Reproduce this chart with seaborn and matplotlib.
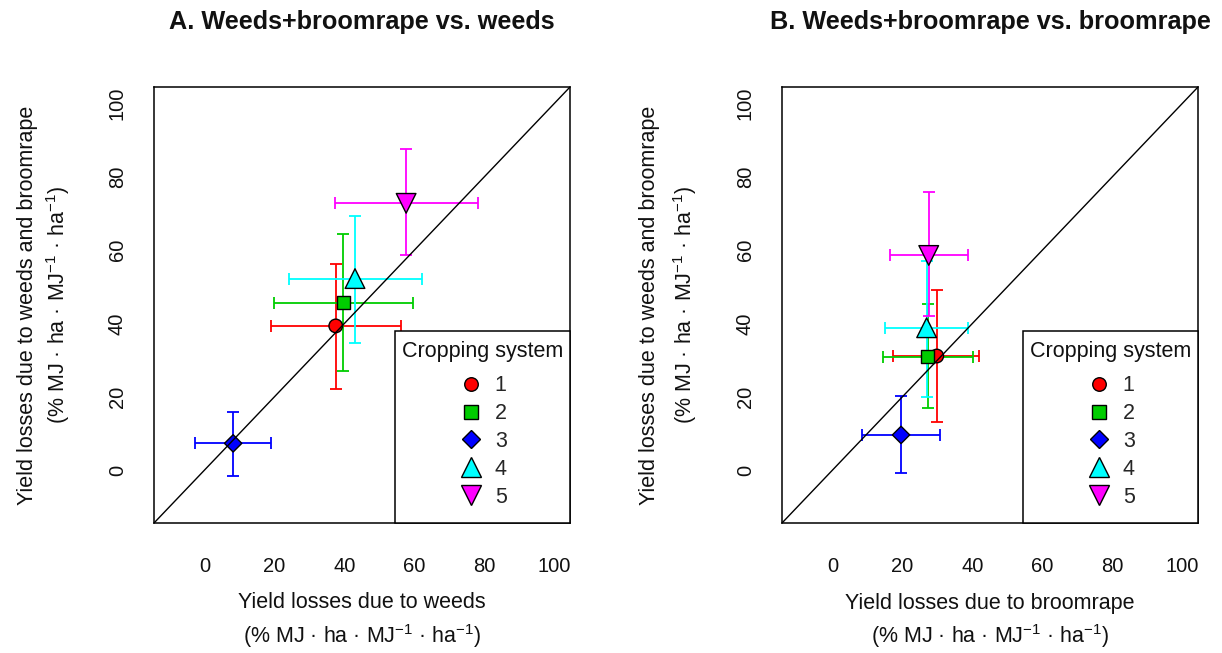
import pandas as pd
import numpy as np
import matplotlib
matplotlib.use("Agg")
import matplotlib.pyplot as plt
from matplotlib.patches import Rectangle
import seaborn as sns

# ==========================================================
# DATA
# ==========================================================

systems = ["1", "2", "3", "4", "5"]

# Panel A : weeds+broomrape (y) vs. weeds (x)
a_x = [37.5, 39.7, 8.2, 43.0, 57.6]
a_x_low = [19.0, 19.9, -2.8, 24.2, 37.3]
a_x_high = [56.0, 59.5, 19.1, 62.2, 78.1]
a_y = [39.3, 45.6, 7.3, 52.2, 72.7]
a_y_low = [22.2, 26.9, -1.5, 34.6, 58.5]
a_y_high = [56.1, 64.4, 15.9, 69.2, 87.6]

# Panel B : weeds+broomrape (y) vs. broomrape (x)
b_x = [29.8, 27.2, 19.6, 26.9, 27.5]
b_x_low = [17.2, 14.4, 8.4, 15.1, 16.4]
b_x_high = [41.9, 40.2, 30.7, 38.7, 38.7]
b_y = [31.1, 30.9, 9.6, 38.8, 58.5]
b_y_low = [13.1, 16.8, -0.9, 19.9, 42.0]
b_y_high = [49.1, 45.3, 20.2, 57.1, 75.7]

ticks = [0, 20, 40, 60, 80, 100]

titles = ["A. Weeds+broomrape vs. weeds", "B. Weeds+broomrape vs. broomrape"]
xlabels = ["Yield losses due to weeds", "Yield losses due to broomrape"]
ylabel = "Yield losses due to weeds and broomrape"
unit = "(% MJ · ha · MJ$^{-1}$ · ha$^{-1}$)"

colors = {"1": "#FF0000", "2": "#00CD00", "3": "#0000FF", "4": "#00FFFF", "5": "#FF00FF"}
markers = {"1": "o", "2": "s", "3": "D", "4": "^", "5": "v"}
sizes = {"1": 95, "2": 88, "3": 78, "4": 200, "5": 200}

# ==========================================================
# STYLE
# ==========================================================

sns.set_style("white")
plt.rcParams["font.family"] = ["Liberation Sans", "DejaVu Sans"]
plt.rcParams["mathtext.fontset"] = "custom"
plt.rcParams["mathtext.rm"] = "Liberation Sans"
plt.rcParams["mathtext.it"] = "Liberation Sans:italic"
plt.rcParams["mathtext.bf"] = "Liberation Sans:bold"

fig = plt.figure(figsize=(12.22, 6.53), dpi=100)

W, H = 1222, 653
ax_a = fig.add_axes([154 / W, 1 - 523 / H, 416 / W, 436 / H])
ax_b = fig.add_axes([782 / W, 1 - 523 / H, 416 / W, 436 / H])

panels = [
    (ax_a, a_x, a_x_low, a_x_high, a_y, a_y_low, a_y_high),
    (ax_b, b_x, b_x_low, b_x_high, b_y, b_y_low, b_y_high),
]

# legend box in axes fraction
box_x0 = 241 / 416
box_h = 192 / 436

for i, (ax, x, xl, xh, y, yl, yh) in enumerate(panels):
    df = pd.DataFrame({"x": x, "y": y, "system": systems})

    # error bars
    for j, s in enumerate(systems):
        ax.errorbar(
            x[j], y[j],
            xerr=[[x[j] - xl[j]], [xh[j] - x[j]]],
            yerr=[[y[j] - yl[j]], [yh[j] - y[j]]],
            fmt="none", ecolor=colors[s], elinewidth=1.3,
            capsize=4.6, capthick=1.3, zorder=2
        )

    sns.scatterplot(
        data=df, x="x", y="y",
        hue="system", style="system", size="system",
        palette=colors, markers=markers, sizes=sizes,
        edgecolor="black", linewidth=1.0,
        ax=ax, zorder=3, legend="full"
    )

    ax.axline((0, 0), slope=1, color="black", lw=1.0, zorder=4)

    ax.set_xlim(-14.4, 104.4)
    ax.set_ylim(-14.4, 104.4)
    ax.set_xticks(ticks)
    ax.set_yticks(ticks)
    ax.set_xlabel("")
    ax.set_ylabel("")
    ax.tick_params(axis="both", direction="out", length=8.6, width=1.0,
                   color="black", labelsize=14.5, labelcolor="#111111")
    ax.tick_params(axis="x", pad=16)
    ax.tick_params(axis="y", pad=11)
    for lab in ax.get_yticklabels():
        lab.set_rotation(90)
        lab.set_va("center")
    for sp in ax.spines.values():
        sp.set_visible(True)
        sp.set_color("black")
        sp.set_linewidth(1.1)

    # legend frame + title drawn by hand, entries from seaborn
    ax.add_patch(Rectangle((box_x0, 0), 1 - box_x0, box_h, transform=ax.transAxes,
                           facecolor="white", edgecolor="black", lw=1.1,
                           zorder=5, clip_on=False))
    box_cx = (box_x0 + 1) / 2
    ax.text(box_cx, (523 - 352) / 436, "Cropping system", transform=ax.transAxes,
            ha="center", va="center", fontsize=15.5, color="#111111", zorder=6)

    sns.move_legend(
        ax, "center", bbox_to_anchor=(box_cx, (523 - 441.5) / 436),
        title=None, frameon=False, fontsize=15.5,
        borderpad=0, labelspacing=0.32, handlelength=1.2, handletextpad=0.5
    )
    ax.get_legend().set_zorder(6)

    # titles and labels as figure text
    bb = ax.get_position()
    cx = (bb.x0 + bb.x1) / 2
    fig.text(cx, 1 - 22 / H, titles[i], ha="center", va="center",
             fontsize=18.2, fontweight="bold", color="#111111")
    fig.text(cx, 1 - 603 / H, xlabels[i], ha="center", va="center",
             fontsize=15.5, color="#111111")
    fig.text(cx, 1 - 636 / H, unit, ha="center", va="center",
             fontsize=15.5, color="#111111")

    cy = (bb.y0 + bb.y1) / 2
    lx1 = [27.5, 649.5][i]
    lx2 = [58.3, 685.0][i]
    fig.text(lx1 / W, cy, ylabel, ha="center", va="center", rotation=90,
             fontsize=15.5, color="#111111")
    fig.text(lx2 / W, cy, unit, ha="center", va="center", rotation=90,
             fontsize=15.5, color="#111111")

plt.savefig("out.png", dpi=100)
plt.close()

print("✓ Figure Saved")
